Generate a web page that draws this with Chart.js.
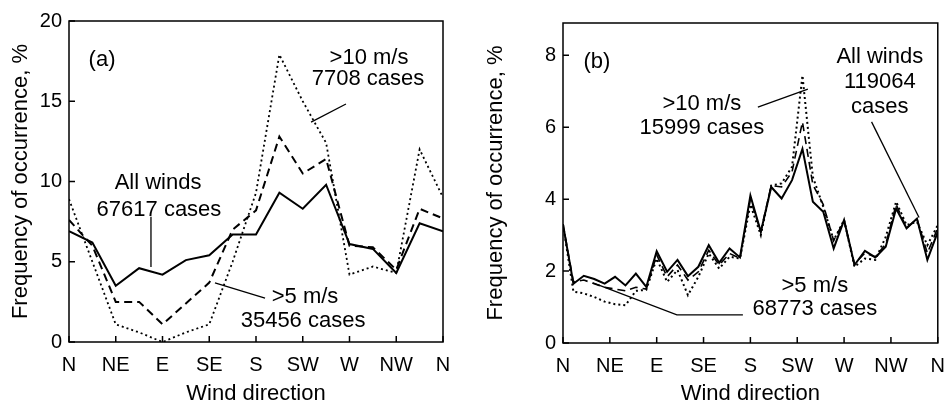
<!DOCTYPE html>
<html>
<head>
<meta charset="utf-8">
<script src="https://cdn.jsdelivr.net/npm/chart.js@4/dist/chart.umd.min.js"></script>
<style>
  body { margin: 0; background: #fff; }
  #wrap { position: relative; width: 951px; height: 405px; }
  #wrap canvas { position: absolute; top: 0; }
</style>
</head>
<body>
<div id="wrap">
  <canvas id="chartA" width="475" height="405" style="left:0"></canvas>
  <canvas id="chartB" width="476" height="405" style="left:475px"></canvas>
</div>
<script>
// Direction axis
const dirTicks = [0, 45, 90, 135, 180, 225, 270, 315, 360];
const dirLabels = ['N', 'NE', 'E', 'SE', 'S', 'SW', 'W', 'NW', 'N'];

// Panel (a): 16 sectors
const degA = [0, 22.5, 45, 67.5, 90, 112.5, 135, 157.5, 180, 202.5, 225, 247.5, 270, 292.5, 315, 337.5, 360];
const allWindsA = [6.9, 6.2, 3.5, 4.6, 4.2, 5.1, 5.4, 6.7, 6.7, 9.3, 8.3, 9.8, 6.1, 5.8, 4.3, 7.4, 6.9];
const over5A = [7.6, 6.0, 2.5, 2.5, 1.1, 2.4, 3.7, 7.0, 8.2, 12.8, 10.5, 11.4, 6.0, 5.9, 4.5, 8.3, 7.7];
const over10A = [8.9, 5.0, 1.1, 0.6, 0.0, 0.6, 1.1, 5.0, 9.3, 17.9, 15.0, 12.4, 4.2, 4.7, 4.3, 12.0, 9.0];
const yTicksA = [0, 5, 10, 15, 20];

// Panel (b): 10 degree bins
const degB = [0, 10, 20, 30, 40, 50, 60, 70, 80, 90, 100, 110, 120, 130, 140, 150, 160, 170, 180,
  190, 200, 210, 220, 230, 240, 250, 260, 270, 280, 290, 300, 310, 320, 330, 340, 350, 360];
const allWindsB = [3.3, 1.65, 1.87, 1.78, 1.65, 1.84, 1.6, 1.93, 1.56, 2.55, 1.98, 2.31, 1.86, 2.12, 2.72, 2.23, 2.63, 2.38, 4.1,
  3.09, 4.34, 4.02, 4.53, 5.4, 3.93, 3.65, 2.63, 3.42, 2.17, 2.56, 2.38, 2.68, 3.74, 3.19, 3.46, 2.31, 3.09];
const over5B = [3.3, 1.7, 1.75, 1.65, 1.55, 1.5, 1.45, 1.55, 1.5, 2.45, 1.84, 2.17, 1.75, 1.98, 2.58, 2.17, 2.49, 2.35, 4.0,
  3.1, 4.38, 4.34, 4.76, 6.15, 4.4, 3.85, 2.85, 3.4, 2.2, 2.5, 2.4, 2.75, 3.85, 3.2, 3.45, 2.5, 3.2];
const over10B = [3.3, 1.43, 1.38, 1.28, 1.15, 1.08, 1.05, 1.45, 1.48, 2.35, 1.7, 2.03, 1.33, 1.84, 2.49, 2.07, 2.4, 2.35, 3.85,
  3.0, 4.38, 4.44, 4.9, 7.44, 4.62, 3.79, 2.86, 3.42, 2.12, 2.35, 2.31, 2.95, 3.93, 3.28, 3.37, 2.72, 3.28];
const yTicksB = [0, 2, 4, 6, 8];

const FONT = 'Liberation Sans, Arial, Helvetica, sans-serif';

const toPoints = (xs, ys) => xs.map((x, i) => ({ x: x, y: ys[i] }));

// Box around plot + inward tick marks
const framePlugin = {
  id: 'frame',
  afterDraw(chart) {
    const { ctx, chartArea: a, scales } = chart;
    ctx.save();
    ctx.strokeStyle = '#000';
    ctx.lineWidth = 1.5;
    ctx.strokeRect(a.left, a.top, a.right - a.left, a.bottom - a.top);
    ctx.beginPath();
    scales.x.ticks.forEach(t => {
      const px = scales.x.getPixelForValue(t.value);
      ctx.moveTo(px, a.bottom);
      ctx.lineTo(px, a.bottom - 6);
    });
    scales.y.ticks.forEach(t => {
      const py = scales.y.getPixelForValue(t.value);
      ctx.moveTo(a.left, py);
      ctx.lineTo(a.left + 6, py);
    });
    ctx.stroke();
    ctx.restore();
  }
};

// Labels and leader lines, placed in data coordinates
const notesPlugin = {
  id: 'notes',
  afterDraw(chart, args, opts) {
    const { ctx, scales } = chart;
    const px = v => scales.x.getPixelForValue(v);
    const py = v => scales.y.getPixelForValue(v);
    ctx.save();
    ctx.fillStyle = '#000';
    ctx.strokeStyle = '#000';
    ctx.lineWidth = 1.3;
    (opts.lines || []).forEach(pts => {
      ctx.beginPath();
      pts.forEach((p, i) => i ? ctx.lineTo(px(p[0]), py(p[1])) : ctx.moveTo(px(p[0]), py(p[1])));
      ctx.stroke();
    });
    ctx.textAlign = 'center';
    ctx.textBaseline = 'middle';
    (opts.texts || []).forEach(t => {
      ctx.font = (t.size || 22) + 'px ' + FONT;
      ctx.fillText(t.text, px(t.x), py(t.y));
    });
    ctx.restore();
  }
};

function makeChart(id, o) {
  const ds = (label, ys, dash, width) => ({
    label: label,
    data: toPoints(o.xs, ys),
    borderColor: '#000',
    borderWidth: width,
    borderDash: dash,
    pointRadius: 0,
    tension: 0,
    fill: false
  });
  return new Chart(document.getElementById(id), {
    type: 'line',
    data: {
      datasets: [
        ds('>10 m/s', o.s10, [2, 3], o.w10),
        ds('>5 m/s', o.s5, [8, 5], o.w5),
        ds('All winds', o.all, [], o.wAll)
      ]
    },
    options: {
      responsive: false,
      animation: false,
      devicePixelRatio: 1,
      layout: { padding: { left: 0, right: o.padRight, top: o.padTop, bottom: 0 } },
      plugins: {
        legend: { display: false },
        tooltip: { enabled: false },
        notes: { texts: o.texts, lines: o.lines }
      },
      scales: {
        x: {
          type: 'linear',
          min: 0,
          max: 360,
          afterBuildTicks: s => { s.ticks = dirTicks.map(v => ({ value: v })); },
          afterFit: s => { s.height = o.xHeight; },
          // tick marks are drawn inward by the frame plugin; tickLength only offsets labels
          grid: { display: false, drawTicks: true, tickLength: 5 },
          border: { display: false },
          ticks: {
            padding: 6,
            color: '#000',
            font: { family: FONT, size: 20 },
            maxRotation: 0,
            autoSkip: false,
            callback: (v, i) => dirLabels[i]
          },
          title: {
            display: true,
            text: 'Wind direction',
            color: '#000',
            font: { family: FONT, size: 22 },
            padding: { top: 0, bottom: -2 }
          }
        },
        y: {
          min: 0,
          max: o.yMax,
          afterBuildTicks: s => { s.ticks = o.yTicks.map(v => ({ value: v })); },
          afterFit: s => { s.width = o.yWidth; },
          grid: { display: false, drawTicks: false },
          border: { display: false },
          ticks: {
            padding: 7,
            color: '#000',
            font: { family: FONT, size: 20 },
            autoSkip: false
          },
          title: {
            display: true,
            text: 'Frequency of occurrence, %',
            color: '#000',
            font: { family: FONT, size: 22 },
            padding: { top: 8, bottom: 0 }
          }
        }
      }
    },
    plugins: [framePlugin, notesPlugin]
  });
}

makeChart('chartA', {
  xs: degA, all: allWindsA, s5: over5A, s10: over10A,
  wAll: 2, w5: 2, w10: 1.8,
  yMax: 20, yTicks: yTicksA,
  yWidth: 69, xHeight: 63, padTop: 21, padRight: 32,
  texts: [
    { text: '(a)', x: 31.8, y: 17.6, size: 22 },
    { text: 'All winds', x: 85.7, y: 9.9 },
    { text: '67617 cases', x: 86.6, y: 8.2 },
    { text: '>10 m/s', x: 288.8, y: 17.7 },
    { text: '7708 cases', x: 287.8, y: 16.4 },
    { text: '>5 m/s', x: 227.2, y: 2.8 },
    { text: '35456 cases', x: 225.3, y: 1.3 }
  ],
  lines: [
    [[78.9, 7.8], [78.9, 4.67]],
    [[140.5, 3.68], [188.7, 2.74]],
    [[233, 13.7], [266.6, 14.83]]
  ]
});

makeChart('chartB', {
  xs: degB, all: allWindsB, s5: over5B, s10: over10B,
  wAll: 2, w5: 1.6, w10: 2,
  yMax: 8.9, yTicks: yTicksB,
  yWidth: 88, xHeight: 62, padTop: 23, padRight: 13,
  texts: [
    { text: '(b)', x: 32.6, y: 7.83, size: 22 },
    { text: '>10 m/s', x: 133.4, y: 6.64 },
    { text: '15999 cases', x: 133.4, y: 5.97 },
    { text: 'All winds', x: 304.3, y: 7.97 },
    { text: '119064', x: 304.3, y: 7.25 },
    { text: 'cases', x: 304.3, y: 6.56 },
    { text: '>5 m/s', x: 241.9, y: 1.58 },
    { text: '68773 cases', x: 241.9, y: 0.94 }
  ],
  lines: [
    [[28.8, 1.67], [109.4, 0.78], [172.8, 0.78]],
    [[187.2, 6.56], [235.2, 7.06]],
    [[296.4, 6.15], [342, 3.49]]
  ]
});
</script>
</body>
</html>
